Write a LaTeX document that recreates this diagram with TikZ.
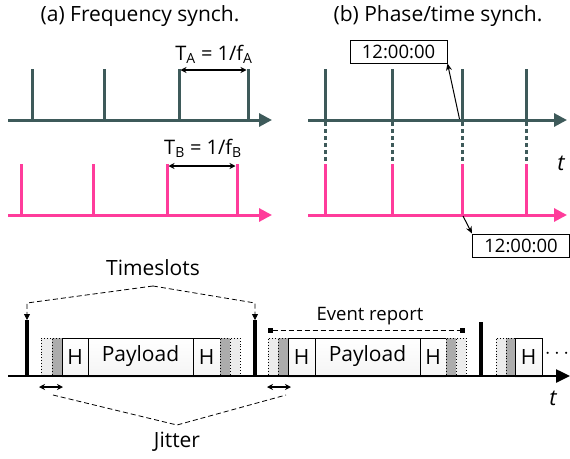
\documentclass[tikz,border=0pt]{standalone}
\usepackage{fontspec}
\setmainfont{Open Sans}
\usetikzlibrary{arrows.meta,shadows,calc}
\definecolor{slate}{RGB}{62,90,90}
\definecolor{pinkc}{RGB}{255,60,155}
\begin{document}
\begin{tikzpicture}[x=1pt,y=-1pt,
  lbl/.style={inner sep=0pt,font=\fontsize{21}{23}\selectfont},
  axisA/.style={slate,line width=3pt,-{Triangle[length=13pt,width=13pt]}},
  axisB/.style={pinkc,line width=3pt,-{Triangle[length=13pt,width=13pt]}},
  tickA/.style={slate,line width=3pt},
  tickB/.style={pinkc,line width=3pt},
  dimarr/.style={line width=1.2pt,{Stealth[length=6pt,width=6pt]}-{Stealth[length=6pt,width=6pt]}},
  timebox/.style={draw,line width=1pt,inner sep=0pt,minimum width=97pt,minimum height=23pt,font=\fontsize{18.5}{20}\selectfont},
  bar/.style={line width=3.5pt},
  pkt/.style={draw,line width=1pt,inner sep=0pt,minimum height=37pt,top color=white,bottom color=gray!8,font=\fontsize{21}{23}\selectfont,drop shadow={opacity=0.12,shadow xshift=0pt,shadow yshift=-3pt}},
  lgap/.style={draw,dotted,line width=0.9pt,fill=gray!15,inner sep=0pt,minimum height=37pt},
  dgap/.style={draw,dotted,line width=0.9pt,fill=gray!65,inner sep=0pt,minimum height=37pt},
  dsh/.style={dashed,line width=0.8pt,dash pattern=on 5pt off 3pt},
]
\useasboundingbox (0,0) rectangle (570,458);

% ---------- (a) ----------
\node[lbl] (ta) at (140,16) {(a) Frequency synch.};
\draw[axisA] (8,120) -- (272,120);
\foreach \x in {32,104,179,248} \draw[tickA] (\x,69) -- (\x,120);
\coordinate (a1) at (180.5,70);
\coordinate (a2) at (246.5,70);
\draw[dimarr] (a1) -- (a2);
\node[lbl,font=\fontsize{20}{22}\selectfont] (tA) at (214,54) {T\textsubscript{A} = 1/f\textsubscript{A}};

\draw[axisB] (8,215) -- (272,215);
\foreach \x in {21,93,167,237} \draw[tickB] (\x,164) -- (\x,215);
\coordinate (b1) at (168.5,166);
\coordinate (b2) at (235.5,166);
\draw[dimarr] (b1) -- (b2);
\node[lbl,font=\fontsize{20}{22}\selectfont] (tB) at (203,148) {T\textsubscript{B} = 1/f\textsubscript{B}};

% ---------- (b) ----------
\node[lbl] (tb) at (438,16) {(b) Phase/time synch.};
\draw[axisA] (308,120) -- (567,120);
\foreach \x in {325,392,462,526} {
  \draw[tickA] (\x,69) -- (\x,120);
  \draw[slate,line width=3pt,dash pattern=on 4pt off 3pt] (\x,122) -- (\x,164);
  \draw[tickB] (\x,164) -- (\x,215);
}
\draw[axisB] (308,215) -- (567,215);
\node[lbl,font=\fontsize{22}{24}\selectfont\itshape] (tt) at (561,163) {t};

\node[timebox] (c1) at (398.5,51.5) {12:00:00};
\coordinate (p1) at (459.5,119);
\draw[line width=1pt,-{Stealth[length=7pt,width=6pt]}] (p1) -- (c1.south east);
\node[timebox] (c2) at (521,245.5) {12:00:00};
\coordinate (p2) at (463,216);
\draw[line width=1pt,-{Stealth[length=7pt,width=6pt]}] (p2) -- (c2.north west);

% ---------- bottom ----------
\node[lbl] (ts) at (153,268) {Timeslots};
\coordinate (tsa) at (153,286);
\coordinate (s1) at (27,320);
\coordinate (s2) at (255,320);
\draw[dsh,-{Triangle[length=6pt,width=6pt]}] (tsa) -- (27,303) -- (s1);
\draw[dsh,-{Triangle[length=6pt,width=6pt]}] (tsa) -- (255,303) -- (s2);

% packet 1
\node[lgap,minimum width=11pt] (l1) at (46.5,356.5) {};
\node[dgap,minimum width=10pt] (d1) at (57,356.5) {};
\node[pkt,minimum width=26pt] (h1) at (75,356.5) {H};
\node[pkt,minimum width=105pt] (pl1) at (140.5,356.5) {Payload};
\node[pkt,minimum width=27pt] (h2) at (206.5,356.5) {H};
\node[dgap,minimum width=10pt] (d2) at (225,356.5) {};
\node[lgap,minimum width=10pt] (l2) at (235,356.5) {};

% packet 2
\node[lgap,minimum width=10pt] (l3) at (273,356.5) {};
\node[dgap,minimum width=10pt] (d3) at (283,356.5) {};
\node[pkt,minimum width=27pt] (h3) at (301.5,356.5) {H};
\node[pkt,minimum width=105pt] (pl2) at (367.5,356.5) {Payload};
\node[pkt,minimum width=26pt] (h4) at (433,356.5) {H};
\node[dgap,minimum width=10pt] (d4) at (451,356.5) {};
\node[lgap,minimum width=10pt] (l4) at (461,356.5) {};

% packet 3
\node[lgap,minimum width=10pt] (l5) at (501,356.5) {};
\node[dgap,minimum width=9pt] (d5) at (510.5,356.5) {};
\node[pkt,minimum width=27pt] (h5) at (528.5,356.5) {H};
\node[lbl,font=\fontsize{20}{22}\selectfont] (dots) at (557,354) {$\cdots$};

% bars
\draw[bar] (s1) -- (27,376);
\draw[bar] (s2) -- (255,376);
\draw[bar] (481,322) -- (481,376);

% axis
\draw[line width=2.5pt,-{Triangle[length=14pt,width=13pt]}] (8,376) -- (570,376);
\node[lbl,font=\fontsize{22}{24}\selectfont\itshape] (tb2) at (553,398) {t};

% event report
\coordinate (e1) at (268,330);
\coordinate (e2) at (465,330);
\draw[dsh,{Square[length=5pt,width=5pt]}-{Square[length=5pt,width=5pt]}] (e1) -- (e2);
\node[lbl,font=\fontsize{18.5}{20}\selectfont] (er) at (370,316) {Event report};

% jitter
\coordinate (j1a) at (39,387);
\coordinate (j1b) at (63,387);
\coordinate (j2a) at (267,387);
\coordinate (j2b) at (291,387);
\draw[dimarr] (j1a) -- (j1b);
\draw[dimarr] (j2a) -- (j2b);
\node[lbl] (jt) at (177,442) {Jitter};
\coordinate (jc) at (177,425);
\draw[dsh] (53,395) -- (jc) -- (286,395);
\end{tikzpicture}
\end{document}
